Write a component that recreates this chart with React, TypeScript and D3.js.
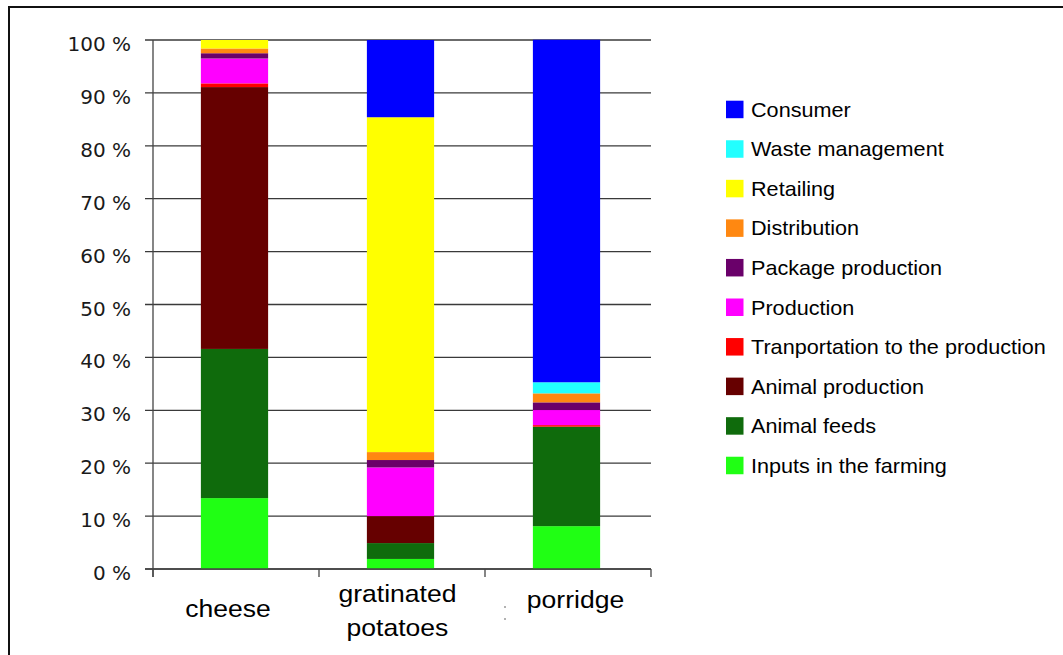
import React from "react";
import * as d3 from "d3";

// Share of each life-cycle stage (%), listed bottom-to-top of each bar
const categories = ["cheese", "gratinated potatoes", "porridge"];
const stages = [
  "Inputs in the farming",
  "Animal feeds",
  "Animal production",
  "Tranportation to the production",
  "Production",
  "Package production",
  "Distribution",
  "Retailing",
  "Waste management",
  "Consumer",
];
const stageColors = [
  "#20ff14",
  "#0f6b0c",
  "#660000",
  "#ff0000",
  "#ff00ff",
  "#6a006a",
  "#ff8811",
  "#ffff00",
  "#22ffff",
  "#0000ff",
];
const cheese = [13.4, 28.2, 49.5, 0.7, 4.7, 1.0, 0.9, 1.6, 0, 0];
const gratinatedPotatoes = [1.9, 3.0, 5.1, 0, 9.2, 1.4, 1.5, 63.3, 0, 14.6];
const porridge = [8.1, 18.8, 0, 0.3, 2.85, 1.45, 1.7, 0, 2.1, 64.75];
const yTicks = [0, 10, 20, 30, 40, 50, 60, 70, 80, 90, 100];

const W = 1063;
const H = 655;
const plot = { left: 153, right: 651, top: 40, bottom: 569 };

// Individual placement of the category captions under the axis
const captionLayout = [
  { cx: 228, baselines: [617] },
  { cx: 397.5, baselines: [602, 636] },
  { cx: 575.5, baselines: [608] },
];
const captionLines = [["cheese"], ["gratinated", "potatoes"], ["porridge"]];

export default function App() {
  const seriesByCategory = [cheese, gratinatedPotatoes, porridge];
  const rows = categories.map((c, i) => {
    const row: Record<string, any> = { category: c };
    stages.forEach((s, j) => (row[s] = seriesByCategory[i][j]));
    return row;
  });
  const stacked = d3.stack<any>().keys(stages)(rows);

  const x = d3.scaleBand<string>().domain(categories).range([plot.left, plot.right]);
  const y = d3.scaleLinear().domain([0, 100]).range([plot.bottom, plot.top]);
  const barW = x.bandwidth() * 0.405;
  const color = d3.scaleOrdinal<string, string>().domain(stages).range(stageColors);

  const xTickPos = [...categories.map((c) => x(c)!), plot.right];
  const legendOrder = stages.slice().reverse();

  return (
    <div style={{ position: "absolute", left: 0, top: 0 }}>
      <svg width={W} height={H} style={{ display: "block", background: "#fff" }}>
        {/* outer frame */}
        <rect x={9} y={7} width={W + 20} height={H + 20} fill="none" stroke="#111" strokeWidth={2} />

        {/* horizontal gridlines */}
        {yTicks.map((t) => (
          <line key={"g" + t} x1={plot.left - 8} x2={plot.right} y1={y(t)} y2={y(t)} stroke="#3a3a3a" strokeWidth={1.3} />
        ))}

        {/* stacked bars */}
        {stacked.map((layer) =>
          layer.map((d, i) =>
            d[1] - d[0] > 0 ? (
              <rect
                key={layer.key + i}
                x={x(categories[i])! + x.bandwidth() / 2 - barW / 2 - 1.5}
                width={barW}
                y={y(d[1])}
                height={y(d[0]) - y(d[1])}
                fill={color(layer.key)}
              />
            ) : null
          )
        )}

        {/* axes */}
        <line x1={plot.left} x2={plot.left} y1={plot.top} y2={plot.bottom + 8} stroke="#444" strokeWidth={1.3} />
        <line x1={plot.left - 8} x2={plot.right} y1={plot.bottom} y2={plot.bottom} stroke="#444" strokeWidth={1.3} />
        {xTickPos.map((p, i) => (
          <line key={"xt" + i} x1={p} x2={p} y1={plot.bottom} y2={plot.bottom + 8} stroke="#444" strokeWidth={1.3} />
        ))}

        {/* y tick labels */}
        {yTicks.map((t) => (
          <text
            key={"yl" + t}
            x={131}
            y={y(t) + 11}
            textAnchor="end"
            fontFamily="DejaVu Sans, Verdana, sans-serif"
            fontSize={20}
            fill="#1a1a1a"
          >
            {t} %
          </text>
        ))}

        {/* category captions */}
        {captionLines.map((lines, i) =>
          lines.map((ln, k) => (
            <text
              key={"c" + i + k}
              transform={`translate(${captionLayout[i].cx},${captionLayout[i].baselines[k]}) scale(1.07,1)`}
              textAnchor="middle"
              fontFamily="Liberation Sans, Arial, sans-serif"
              fontSize={24.8}
              fill="#000"
            >
              {ln}
            </text>
          ))
        )}
        <circle cx={505} cy={607} r={1} fill="#999" />
        <circle cx={505} cy={619} r={1} fill="#999" />

        {/* legend */}
        {legendOrder.map((s, i) => (
          <g key={"lg" + s} transform={`translate(726,${100.7 + i * 39.56})`}>
            <rect x={0} y={0} width={17.5} height={17.5} fill={color(s)} />
            <text
              transform="translate(25,16) scale(1.06,1)"
              fontFamily="Liberation Sans, Arial, sans-serif"
              fontSize={20.4}
              fill="#000"
            >
              {s}
            </text>
          </g>
        ))}
      </svg>
    </div>
  );
}
